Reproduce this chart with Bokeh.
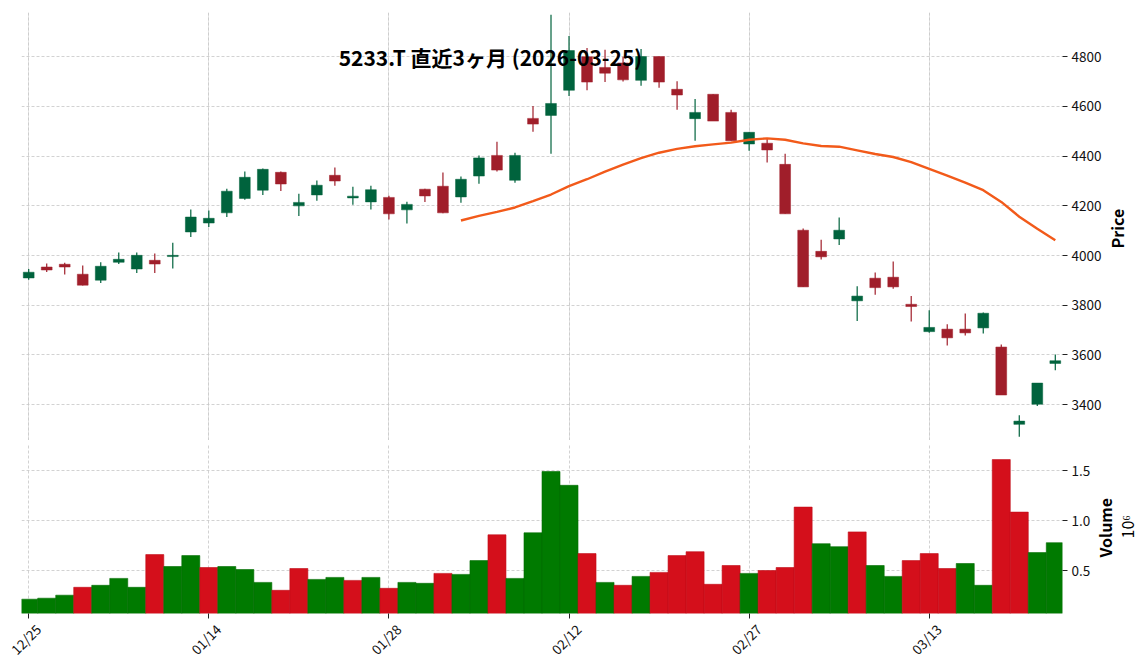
from math import pi
import numpy as np
import pandas as pd
from bokeh.plotting import figure
from bokeh.layouts import column
from bokeh.models import (ColumnDataSource, FixedTicker, Grid, Label, LinearAxis, Range1d)
from bokeh.embed import file_html
from bokeh.resources import INLINE

# ---------------- data ----------------
dates = ["12/25", "12/26", "12/29", "12/30", "01/05", "01/06", "01/07", "01/08", "01/09", "01/13",
         "01/14", "01/15", "01/16", "01/19", "01/20", "01/21", "01/22", "01/23", "01/26", "01/27",
         "01/28", "01/29", "01/30", "02/02", "02/03", "02/04", "02/05", "02/06", "02/09", "02/10",
         "02/12", "02/13", "02/16", "02/17", "02/18", "02/19", "02/20", "02/24", "02/25", "02/26",
         "02/27", "03/02", "03/03", "03/04", "03/05", "03/06", "03/09", "03/10", "03/11", "03/12",
         "03/13", "03/16", "03/17", "03/18", "03/19", "03/23", "03/24", "03/25"]

opens = [3910, 3954, 3965, 3925, 3901, 3973, 3946, 3981, 3996, 4095,
         4131, 4172, 4230, 4263, 4335, 4200, 4244, 4323, 4232, 4216,
         4234, 4184, 4267, 4279, 4236, 4320, 4403, 4303, 4552, 4564,
         4665, 4800, 4757, 4775, 4705, 4801, 4669, 4551, 4649, 4576,
         4449, 4452, 4367, 4102, 4017, 4067, 3818, 3909, 3913, 3804,
         3694, 3704, 3704, 3709, 3632, 3321, 3402, 3566]
highs = [3946, 3968, 3971, 3960, 3973, 4012, 4012, 4008, 4052, 4185,
         4181, 4269, 4338, 4350, 4338, 4249, 4302, 4354, 4277, 4281,
         4241, 4217, 4269, 4334, 4318, 4403, 4458, 4414, 4602, 4969,
         4883, 4835, 4828, 4800, 4831, 4801, 4701, 4630, 4649, 4587,
         4496, 4470, 4410, 4109, 4064, 4153, 3877, 3932, 3976, 3837,
         3780, 3724, 3767, 3771, 3642, 3358, 3487, 3602]
lows = [3903, 3934, 3924, 3880, 3890, 3966, 3930, 3930, 3948, 4075,
        4115, 4155, 4225, 4244, 4260, 4159, 4221, 4281, 4205, 4185,
        4145, 4129, 4216, 4170, 4213, 4289, 4338, 4293, 4498, 4410,
        4642, 4665, 4698, 4700, 4683, 4675, 4587, 4462, 4541, 4462,
        4422, 4374, 4168, 3874, 3984, 4043, 3737, 3842, 3867, 3735,
        3690, 3638, 3678, 3686, 3439, 3271, 3395, 3539]
closes = [3933, 3942, 3954, 3881, 3957, 3985, 4001, 3966, 4001, 4155,
          4150, 4259, 4315, 4347, 4288, 4214, 4283, 4300, 4239, 4265,
          4168, 4206, 4240, 4172, 4307, 4393, 4344, 4403, 4529, 4612,
          4825, 4698, 4734, 4707, 4801, 4698, 4646, 4576, 4541, 4462,
          4496, 4425, 4168, 3874, 3995, 4102, 3837, 3871, 3874, 3795,
          3711, 3669, 3689, 3768, 3439, 3334, 3487, 3577]
volumes = [216000, 226000, 256000, 335000, 355000, 424000, 335000, 662000, 543000, 652000,
           533000, 543000, 513000, 384000, 305000, 523000, 414000, 434000, 404000, 434000,
           325000, 384000, 375000, 474000, 464000, 602000, 860000, 424000, 880000, 1493000,
           1355000, 672000, 384000, 355000, 444000, 484000, 652000, 691000, 365000, 553000,
           474000, 503000, 533000, 1137000, 771000, 741000, 889000, 553000, 444000, 602000,
           672000, 523000, 573000, 355000, 1612000, 1087000, 682000, 781000]

title_text = "5233.T 直近3ヶ月 (2026-03-25)"
price_ticks = [3400, 3600, 3800, 4000, 4200, 4400, 4600, 4800]
vol_ticks = [500000, 1000000, 1500000]
vol_tick_labels = ["0.5", "1.0", "1.5"]
date_tick_idx = [0, 10, 20, 30, 40, 50]
MA_WINDOW = 25

# ---------------- styling ----------------
FONT = "Noto Sans CJK JP"
UP_C, DN_C = "#00633d", "#a01e2a"
VUP_C, VDN_C = "#007a00", "#d40f1b"
VUP_E, VDN_E = "#006c00", "#c00c17"
MA_C = "#f25a1a"
GRID_C = "#c6c6c6"
FW = 1041
PH, VH = 428, 170
P_RANGE = (3256, 4978)
V_RANGE = (73000, 1773000)
LABEL_SHIFT = 0.52   # date labels: centre the rotated text under its tick

n = len(dates)
idx = np.arange(n)
o = np.array(opens, float); c = np.array(closes, float)
h = np.array(highs, float); l = np.array(lows, float)
up = c >= o
ma = pd.Series(closes, dtype=float).rolling(MA_WINDOW).mean().to_numpy()

prev = np.concatenate([[c[0] - 1], c[:-1]])
vup = c >= prev

csrc = ColumnDataSource(dict(
    x=idx, o=o, c=c, h=h, l=l,
    top=np.maximum(o, c), bot=np.minimum(o, c),
    col=[UP_C if u else DN_C for u in up],
))
vsrc = ColumnDataSource(dict(
    x=idx, v=volumes,
    fc=[VUP_C if u else VDN_C for u in vup],
    lc=[VUP_E if u else VDN_E for u in vup],
))

xr = Range1d(-0.4, n - 1 + 0.4)


def style_grid(g):
    g.grid_line_color = GRID_C
    g.grid_line_dash = "3 2"
    g.grid_line_width = 0.8


def style_yaxis(ax):
    ax.axis_line_color = None
    ax.major_tick_out = 5
    ax.major_tick_in = 0
    ax.major_tick_line_color = "#222222"
    ax.minor_tick_line_color = None
    ax.major_label_text_font = FONT
    ax.major_label_text_font_size = "13.5px"
    ax.major_label_text_color = "#111111"
    ax.major_label_standoff = 4


def title_axis(fig, pos, text, bold, standoff, rng, frame_h, px_from_top):
    # rotated text starts at the anchor and runs upwards
    anchor = rng[1] - (px_from_top / frame_h) * (rng[1] - rng[0])
    ax = LinearAxis(ticker=FixedTicker(ticks=[anchor]), major_label_overrides={anchor: text})
    ax.axis_line_color = None
    ax.major_tick_line_color = None
    ax.minor_tick_line_color = None
    ax.major_tick_out = 0
    ax.major_tick_in = 0
    ax.major_label_orientation = pi / 2
    ax.major_label_standoff = standoff
    ax.major_label_text_font = FONT
    ax.major_label_text_font_size = "16px"
    ax.major_label_text_font_style = "bold" if bold else "normal"
    ax.major_label_text_color = "black"
    fig.add_layout(ax, pos)
    return ax


# ---------------- price panel ----------------
p = figure(frame_width=FW, frame_height=PH, x_range=xr, y_range=Range1d(*P_RANGE),
           x_axis_location=None, y_axis_location="right",
           output_backend="svg", toolbar_location=None,
           min_border_left=21, min_border_top=12, min_border_bottom=0, min_border_right=82)
p.outline_line_color = None
p.background_fill_color = "white"
p.border_fill_color = "white"

p.yaxis.ticker = FixedTicker(ticks=price_ticks)
style_yaxis(p.yaxis[0])
p.ygrid.ticker = FixedTicker(ticks=price_ticks)
style_grid(p.ygrid[0])
gx = Grid(dimension=0, ticker=FixedTicker(ticks=date_tick_idx))
style_grid(gx)
p.add_layout(gx)

p.segment(x0="x", y0="l", x1="x", y1="h", source=csrc, line_color="col", line_width=1.2)
p.vbar(x="x", width=0.6, top="top", bottom="bot", source=csrc,
       fill_color="col", line_color="col", line_width=0.5)
p.line(idx, ma, line_color=MA_C, line_width=2.4)

p.add_layout(Label(x=469, y=384, x_units="screen", y_units="screen", text=title_text,
                   text_align="center", text_baseline="middle", text_font=FONT,
                   text_font_size="21px", text_font_style="bold", text_color="black"))
title_axis(p, "right", "Price", True, 12, P_RANGE, PH, 236)

# ---------------- volume panel ----------------
v = figure(frame_width=FW, frame_height=VH, x_range=xr, y_range=Range1d(*V_RANGE),
           x_axis_location="below", y_axis_location="right",
           output_backend="svg", toolbar_location=None,
           min_border_left=21, min_border_top=3, min_border_bottom=40, min_border_right=82)
v.outline_line_color = None
v.background_fill_color = "white"
v.border_fill_color = "white"

v.yaxis.ticker = FixedTicker(ticks=vol_ticks)
v.yaxis.major_label_overrides = {t: s for t, s in zip(vol_ticks, vol_tick_labels)}
style_yaxis(v.yaxis[0])
v.ygrid.ticker = FixedTicker(ticks=vol_ticks)
style_grid(v.ygrid[0])

# tick marks only
v.xaxis.ticker = FixedTicker(ticks=date_tick_idx)
v.xaxis.major_label_overrides = {t: "" for t in date_tick_idx}
v.xaxis.major_label_standoff = 0
v.xaxis.axis_line_color = None
v.xaxis.major_tick_out = 5
v.xaxis.major_tick_in = 0
v.xaxis.major_tick_line_color = "#222222"
v.xaxis.minor_tick_line_color = None
v.xgrid.ticker = FixedTicker(ticks=date_tick_idx)
style_grid(v.xgrid[0])

# rotated date labels
lab_pos = [i + LABEL_SHIFT for i in date_tick_idx]
dax = LinearAxis(ticker=FixedTicker(ticks=lab_pos),
                 major_label_overrides={pp: dates[i] for pp, i in zip(lab_pos, date_tick_idx)})
dax.axis_line_color = None
dax.major_tick_line_color = None
dax.minor_tick_line_color = None
dax.major_tick_out = 0
dax.major_tick_in = 0
dax.major_label_orientation = pi / 4
dax.major_label_standoff = 8
dax.major_label_text_font = FONT
dax.major_label_text_font_size = "13.5px"
dax.major_label_text_color = "#111111"
v.add_layout(dax, "below")

v.vbar(x="x", width=1.0, top="v", bottom=0, source=vsrc,
       fill_color="fc", line_color="lc", line_width=0.6)

title_axis(v, "right", "Volume", True, 11, V_RANGE, VH, 114)
title_axis(v, "right", "10⁶", False, -5, V_RANGE, VH, 95)

layout = column(p, v, spacing=0)
open("out.html", "w").write(file_html(layout, INLINE))
